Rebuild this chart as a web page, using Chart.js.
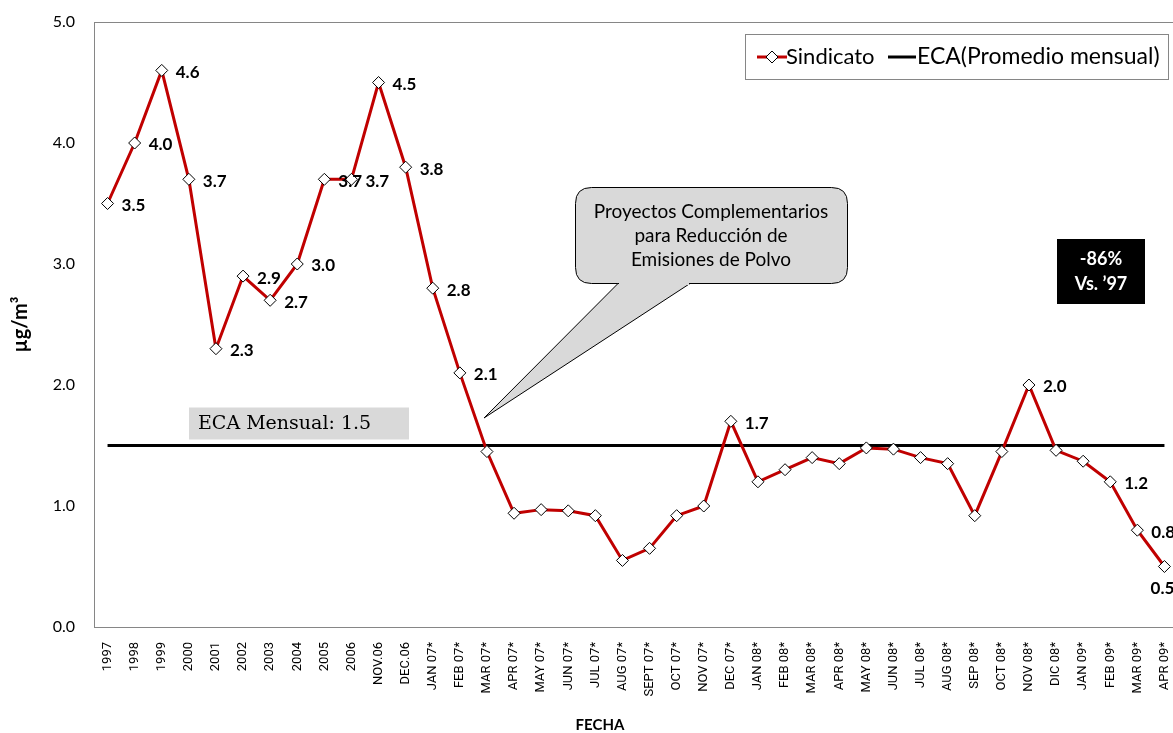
<!DOCTYPE html>
<html>
<head>
<meta charset="utf-8">
<script src="https://cdn.jsdelivr.net/npm/chart.js@4.4.1/dist/chart.umd.min.js"></script>
<style>
  html, body { margin: 0; padding: 0; background: #fff; overflow: hidden; }
  #wrap { width: 1185px; height: 733px; }
</style>
</head>
<body>
<div id="wrap"><canvas id="chart" width="1185" height="733"></canvas></div>
<script>
const fechas = [
  "1997", "1998", "1999", "2000", "2001", "2002", "2003", "2004", "2005", "2006",
  "NOV.06", "DEC.06",
  "JAN 07*", "FEB 07*", "MAR 07*", "APR 07*", "MAY 07*", "JUN 07*", "JUL 07*", "AUG 07*",
  "SEPT 07*", "OCT 07*", "NOV 07*", "DEC 07*",
  "JAN 08*", "FEB 08*", "MAR 08*", "APR 08*", "MAY 08*", "JUN 08*", "JUL 08*", "AUG 08*",
  "SEP 08*", "OCT 08*", "NOV 08*", "DIC 08*",
  "JAN 09*", "FEB 09*", "MAR 09*", "APR 09*"
];

const sindicato = [
  3.5, 4.0, 4.6, 3.7, 2.3, 2.9, 2.7, 3.0, 3.7, 3.7,
  4.5, 3.8,
  2.8, 2.1, 1.45, 0.94, 0.97, 0.96, 0.92, 0.55,
  0.65, 0.92, 1.0, 1.7,
  1.2, 1.3, 1.4, 1.35, 1.48, 1.47, 1.4, 1.35,
  0.92, 1.45, 2.0, 1.46,
  1.37, 1.2, 0.8, 0.5
];

const ecaMensual = 1.5;
const eca = fechas.map(() => ecaMensual);

// points that carry a value label in the original
const labeled = [
  "1997", "1998", "1999", "2000", "2001", "2002", "2003", "2004", "2005", "2006",
  "NOV.06", "DEC.06", "JAN 07*", "FEB 07*", "DEC 07*", "NOV 08*", "FEB 09*", "MAR 09*", "APR 09*"
];
const labelBelow = ["APR 09*"];

const yTicks = [0, 1, 2, 3, 4, 5];

const FONT = "Lato, 'Liberation Sans', sans-serif";

function roundRect(ctx, x, y, w, h, r) {
  ctx.beginPath();
  ctx.moveTo(x + r, y);
  ctx.lineTo(x + w - r, y);
  ctx.quadraticCurveTo(x + w, y, x + w, y + r);
  ctx.lineTo(x + w, y + h - r);
  ctx.quadraticCurveTo(x + w, y + h, x + w - r, y + h);
  ctx.lineTo(x + r, y + h);
  ctx.quadraticCurveTo(x, y + h, x, y + h - r);
  ctx.lineTo(x, y + r);
  ctx.quadraticCurveTo(x, y, x + r, y);
  ctx.closePath();
}

const extras = {
  id: "extras",
  beforeDatasetsDraw(chart) {
    const { ctx, chartArea: a, scales } = chart;
    ctx.save();
    // plot frame
    ctx.strokeStyle = "#868686";
    ctx.lineWidth = 1;
    ctx.strokeRect(a.left + 0.5, a.top + 0.5, a.right - a.left, a.bottom - a.top);

    // ECA label box
    const yEca = scales.y.getPixelForValue(ecaMensual);
    ctx.fillStyle = "#d9d9d9";
    ctx.fillRect(189, yEca - 38, 220, 32);
    ctx.fillStyle = "#000";
    ctx.font = "19px 'DejaVu Serif', 'Liberation Serif', serif";
    ctx.textBaseline = "middle";
    ctx.textAlign = "left";
    ctx.fillText("ECA Mensual: " + ecaMensual.toFixed(1), 198, yEca - 21);
    ctx.restore();
  },
  afterDatasetsDraw(chart) {
    const { ctx } = chart;
    const meta = chart.getDatasetMeta(1);
    ctx.save();
    ctx.fillStyle = "#000";
    ctx.font = "bold 17px " + FONT;
    ctx.textBaseline = "middle";
    meta.data.forEach((pt, i) => {
      const cat = fechas[i];
      if (!labeled.includes(cat)) return;
      const txt = sindicato[i].toFixed(1);
      if (labelBelow.includes(cat)) {
        ctx.textAlign = "center";
        ctx.fillText(txt, pt.x - 2, pt.y + 22);
      } else {
        ctx.textAlign = "left";
        ctx.fillText(txt, pt.x + 14, pt.y + 2);
      }
    });

    // callout
    ctx.fillStyle = "#d9d9d9";
    ctx.strokeStyle = "#000";
    ctx.lineWidth = 1;
    roundRect(ctx, 575.5, 187.5, 272, 96, 16);
    ctx.fill();
    ctx.stroke();
    ctx.beginPath();
    ctx.moveTo(618, 283.5);
    ctx.lineTo(484, 418);
    ctx.lineTo(690, 283.5);
    ctx.closePath();
    ctx.fill();
    ctx.stroke();
    ctx.fillRect(619, 281, 70, 4);
    ctx.fillStyle = "#000";
    ctx.font = "19px " + FONT;
    ctx.textAlign = "center";
    ctx.fillText("Proyectos Complementarios", 711, 212);
    ctx.fillText("para Reducción de", 711, 236);
    ctx.fillText("Emisiones de Polvo", 711, 260);

    // reduction badge
    ctx.fillStyle = "#000";
    ctx.fillRect(1057, 239, 88, 65);
    ctx.fillStyle = "#fff";
    ctx.font = "bold 18px " + FONT;
    ctx.fillText("-86%", 1101, 259);
    ctx.fillText("Vs. \u201997", 1101, 284);

    // legend
    ctx.fillStyle = "#fff";
    ctx.fillRect(745, 34, 423, 45);
    ctx.strokeStyle = "#868686";
    ctx.strokeRect(745.5, 34.5, 423, 45);
    ctx.strokeStyle = "#c00000";
    ctx.lineWidth = 3;
    ctx.beginPath();
    ctx.moveTo(757, 57);
    ctx.lineTo(787, 57);
    ctx.stroke();
    ctx.fillStyle = "#fff";
    ctx.strokeStyle = "#000";
    ctx.lineWidth = 1;
    ctx.beginPath();
    ctx.moveTo(772, 51);
    ctx.lineTo(778, 57);
    ctx.lineTo(772, 63);
    ctx.lineTo(766, 57);
    ctx.closePath();
    ctx.fill();
    ctx.stroke();
    ctx.strokeStyle = "#000";
    ctx.lineWidth = 3;
    ctx.beginPath();
    ctx.moveTo(888, 57);
    ctx.lineTo(916, 57);
    ctx.stroke();
    ctx.fillStyle = "#000";
    ctx.font = "22px " + FONT;
    ctx.textAlign = "left";
    ctx.fillText("Sindicato", 786, 57);
    ctx.font = "23px " + FONT;
    ctx.fillText("ECA(Promedio mensual)", 917, 57);

    // x axis title
    ctx.font = "bold 15px " + FONT;
    ctx.textAlign = "center";
    ctx.fillText("FECHA", 600, 725);
    ctx.restore();
  }
};

new Chart(document.getElementById("chart"), {
  type: "line",
  data: {
    labels: fechas,
    datasets: [
      {
        label: "ECA(Promedio mensual)",
        data: eca,
        borderColor: "#000",
        borderWidth: 3,
        pointRadius: 0,
        tension: 0,
        order: 2,
      },
      {
        label: "Sindicato",
        data: sindicato,
        borderColor: "#c00000",
        borderWidth: 3,
        pointStyle: "rectRot",
        pointRadius: 6,
        pointBackgroundColor: "#fff",
        pointBorderColor: "#000",
        pointBorderWidth: 1,
        tension: 0,
        order: 1,
      },
    ],
  },
  options: {
    responsive: false,
    animation: false,
    devicePixelRatio: 1,
    layout: { padding: { top: 22, right: 0, left: 0, bottom: 0 } },
    plugins: {
      legend: { display: false },
      tooltip: { enabled: false },
    },
    scales: {
      x: {
        offset: true,
        // grid hidden; tick length only used to push labels away from axis
        grid: { display: false, drawTicks: true, tickLength: 12 },
        border: { display: true, color: "#868686", width: 1 },
        ticks: {
          autoSkip: false,
          maxRotation: 90,
          minRotation: 90,
          padding: 3,
          color: "#000",
          font: { family: "Roboto, sans-serif", size: 13 },
        },
        afterFit(scale) { scale.height = 106; },
      },
      y: {
        min: 0,
        max: 5,
        grid: { display: false, drawTicks: true, tickLength: 16 },
        border: { display: true, color: "#868686", width: 1 },
        afterBuildTicks(scale) { scale.ticks = yTicks.map((v) => ({ value: v })); },
        ticks: {
          padding: 3,
          color: "#000",
          font: { family: FONT, size: 16 },
          callback: (v) => Number(v).toFixed(1),
        },
        title: {
          display: true,
          text: "µg/m³",
          color: "#000",
          padding: { top: 9, bottom: 9 },
          font: { family: FONT, size: 20, weight: "bold" },
        },
        afterFit(scale) { scale.width = 94; },
      },
    },
  },
  plugins: [extras],
});
</script>
</body>
</html>
